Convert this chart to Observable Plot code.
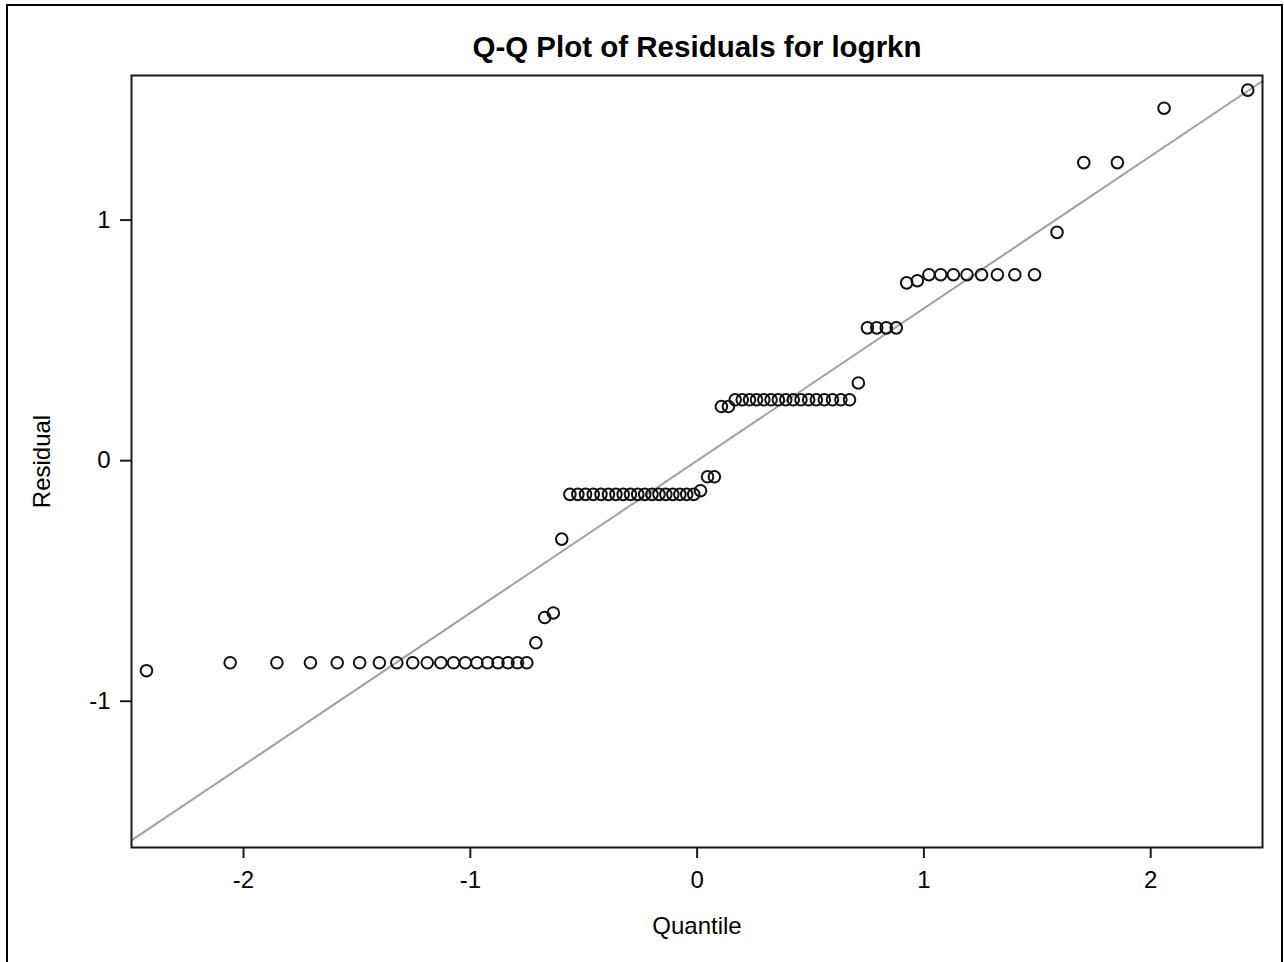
<!DOCTYPE html>
<html>
<head>
<meta charset="utf-8">
<script src="https://cdn.jsdelivr.net/npm/d3@7"></script>
<script src="https://cdn.jsdelivr.net/npm/@observablehq/plot@0.6"></script>
<style>
  html, body { margin: 0; padding: 0; background: #fff; overflow: hidden; }
  #wrap { position: relative; width: 1284px; height: 962px; }
  #border { position: absolute; left: 6px; top: 4px; width: 1273px; height: 1000px; border: 2px solid #000; pointer-events: none; }
</style>
</head>
<body>
<div id="wrap"><div id="border"></div></div>
<script>
// ---- data ----
const title = "Q-Q Plot of Residuals for logrkn";
const xLabel = "Quantile";
const yLabel = "Residual";
const xTicks = [-2, -1, 0, 1, 2];
const yTicks = [-1, 0, 1];
const xDomain = [-2.494, 2.493];
const yDomain = [-1.608, 1.601];

// normal quantiles (x) of the ordered residuals
const quantiles = [
  -2.428, -2.059, -1.853, -1.705, -1.587, -1.488, -1.401, -1.324, -1.254, -1.190,
  -1.130, -1.074, -1.022, -0.971, -0.924, -0.878, -0.834, -0.792, -0.751, -0.711,
  -0.672, -0.634, -0.597, -0.561, -0.526, -0.492, -0.458, -0.424, -0.391, -0.358,
  -0.326, -0.294, -0.262, -0.231, -0.199, -0.168, -0.138, -0.107, -0.076, -0.046,
  -0.015, 0.015, 0.046, 0.076, 0.107, 0.138, 0.168, 0.199, 0.231, 0.262,
  0.294, 0.326, 0.358, 0.391, 0.424, 0.458, 0.492, 0.526, 0.561, 0.597,
  0.634, 0.672, 0.711, 0.751, 0.792, 0.834, 0.878, 0.924, 0.971, 1.022,
  1.074, 1.130, 1.190, 1.254, 1.324, 1.401, 1.488, 1.587, 1.705, 1.853,
  2.059, 2.428
];
// ordered residuals (y)
const residuals = [
  -0.873, -0.840, -0.840, -0.840, -0.840, -0.840, -0.840, -0.840, -0.840, -0.840,
  -0.840, -0.840, -0.840, -0.840, -0.840, -0.840, -0.840, -0.840, -0.840, -0.757,
  -0.652, -0.633, -0.326, -0.140, -0.140, -0.140, -0.140, -0.140, -0.140, -0.140,
  -0.140, -0.140, -0.140, -0.140, -0.140, -0.140, -0.140, -0.140, -0.140, -0.140,
  -0.140, -0.125, -0.067, -0.067, 0.225, 0.225, 0.253, 0.253, 0.253, 0.253,
  0.253, 0.253, 0.253, 0.253, 0.253, 0.253, 0.253, 0.253, 0.253, 0.253,
  0.253, 0.253, 0.323, 0.552, 0.552, 0.552, 0.552, 0.739, 0.748, 0.773,
  0.773, 0.773, 0.773, 0.773, 0.773, 0.773, 0.773, 0.949, 1.239, 1.239,
  1.465, 1.540
];
// reference line: residual = intercept + slope * quantile
const lineIntercept = 0;
const lineSlope = 0.633;

const points = quantiles.map((q, i) => ({q, r: residuals[i]}));
const refLine = xDomain.map(q => ({q, r: lineIntercept + lineSlope * q}));

const font = "'Liberation Sans', Arial, Helvetica, sans-serif";
const fmt = d => String(d);

const chart = Plot.plot({
  width: 1284,
  height: 962,
  marginLeft: 131,
  marginRight: 22,
  marginTop: 75,
  marginBottom: 115,
  x: {domain: xDomain},
  y: {domain: yDomain},
  style: {fontFamily: font, fontSize: "24px", color: "#000", background: "transparent", overflow: "visible"},
  marks: [
    Plot.line(refLine, {x: "q", y: "r", stroke: "#a0a0a0", strokeWidth: 2}),
    Plot.dot(points, {x: "q", y: "r", r: 5.8, stroke: "#111", strokeWidth: 2, fill: "none"}),
    Plot.frame({stroke: "#1a1a1a", strokeWidth: 2}),
    Plot.axisX({ticks: xTicks, tickSize: 11, tickPadding: 12, tickFormat: fmt, fontSize: 24, strokeWidth: 2, stroke: "#1a1a1a", label: null}),
    Plot.axisY({ticks: yTicks, tickSize: 11, tickPadding: 10, tickFormat: fmt, fontSize: 24, strokeWidth: 2, stroke: "#1a1a1a", label: null}),
    Plot.text([xLabel], {text: d => d, frameAnchor: "bottom", dy: 86, fontSize: 24, fill: "#000"}),
    Plot.text([yLabel], {text: d => d, frameAnchor: "left", textAnchor: "middle", dx: -89, rotate: -90, fontSize: 24, fill: "#000"}),
    Plot.text([title], {text: d => d, frameAnchor: "top", dy: -39, fontSize: 29.5, fontWeight: "bold", fill: "#000"})
  ]
});
chart.style.position = "absolute";
chart.style.left = "0px";
chart.style.top = "0px";
document.getElementById("wrap").prepend(chart);
</script>
</body>
</html>
